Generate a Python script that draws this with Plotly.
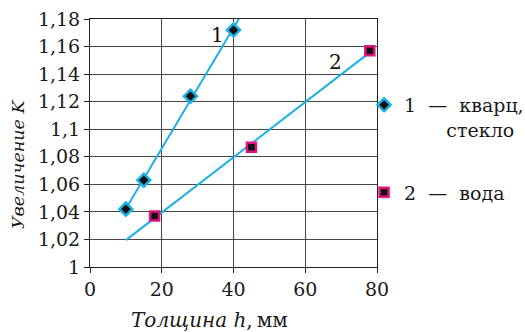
import numpy as np
import plotly.graph_objects as go

# --- data ---
quartz_h = [10, 15, 28, 40]
quartz_k = [1.042, 1.063, 1.124, 1.172]
water_h = [18, 45, 78]
water_k = [1.037, 1.087, 1.157]
quartz_fit_range = [10, 42]
water_fit_range = [10, 78]

x_tickvals = [0, 20, 40, 60, 80]
x_ticktext = ["0", "20", "40", "60", "80"]
y_tickvals = [1.0, 1.02, 1.04, 1.06, 1.08, 1.10, 1.12, 1.14, 1.16, 1.18]
y_ticktext = ["1", "1,02", "1,04", "1,06", "1,08", "1,1", "1,12", "1,14", "1,16", "1,18"]

legend_names = ["1 \u00a0—\u00a0 кварц,<br>" + "\u00a0" * 7 + "стекло", "2 \u00a0—\u00a0 вода"]
x_title = "<i>Толщина h</i>,\u2009мм"
y_title = "<i>Увеличение K</i>"

LINE = "#19b1e6"
MAG = "#e0147f"
FONT = "DejaVu Serif"

def fit(xs, ys, rng):
    a, b = np.polyfit(xs, ys, 1)
    xx = np.array(rng, dtype=float)
    return xx, a * xx + b

fig = go.Figure()

fx, fy = fit(quartz_h, quartz_k, quartz_fit_range)
fig.add_trace(go.Scatter(x=fx, y=fy, mode="lines", line=dict(color=LINE, width=2), showlegend=False, hoverinfo="skip"))
fx2, fy2 = fit(water_h, water_k, water_fit_range)
fig.add_trace(go.Scatter(x=fx2, y=fy2, mode="lines", line=dict(color=LINE, width=2), showlegend=False, hoverinfo="skip"))

fig.add_trace(go.Scatter(x=quartz_h, y=quartz_k, mode="markers", name=legend_names[0], legendgroup="a",
                         marker=dict(symbol="diamond", size=10, color="#111111", line=dict(color=LINE, width=2.5))))
fig.add_trace(go.Scatter(x=water_h, y=water_k, mode="markers", name=legend_names[1], legendgroup="b",
                         marker=dict(symbol="square", size=9, color="#111111", line=dict(color=MAG, width=2.5))))

fig.add_annotation(x=35.4, y=1.1686, text="1", showarrow=False, font=dict(family=FONT, size=20, color="#111"))
fig.add_annotation(x=68.3, y=1.149, text="2", showarrow=False, font=dict(family=FONT, size=20, color="#111"))

# axis titles as annotations (placed like the reference)
fig.add_annotation(xref="paper", yref="paper", x=0.418, y=0, yshift=-53, yanchor="middle", xanchor="center",
                   text=x_title, showarrow=False, font=dict(family=FONT, size=20, color="#1a1a1a"))
fig.add_annotation(xref="paper", yref="paper", x=0, xshift=-72, y=0.415, xanchor="center", yanchor="middle",
                   textangle=-90, text=y_title, showarrow=False, font=dict(family=FONT, size=17.5, color="#1a1a1a"))

GRID = "#444444"
fig.update_layout(
    width=525, height=332,
    margin=dict(l=90, r=148, t=19, b=65, autoexpand=False),
    paper_bgcolor="white", plot_bgcolor="white",
    font=dict(family=FONT, size=19, color="#1a1a1a"),
    legend=dict(x=0.955, y=0.73, xanchor="left", yanchor="top", valign="top",
                tracegroupgap=35, bgcolor="rgba(0,0,0,0)", font=dict(family=FONT, size=19)),
    xaxis=dict(range=[0, 80], tickvals=x_tickvals, ticktext=x_ticktext, showgrid=True, gridcolor=GRID, gridwidth=1,
               showline=True, linecolor="#222", linewidth=1, mirror=True, ticks="outside", ticklen=5, tickcolor="#222",
               zeroline=False, tickfont=dict(size=19), automargin=False),
    yaxis=dict(range=[1.0, 1.18], tickvals=y_tickvals, ticktext=y_ticktext, showgrid=True, gridcolor=GRID, gridwidth=1,
               showline=True, linecolor="#222", linewidth=1, mirror=True, ticks="outside", ticklen=5, tickcolor="#222",
               zeroline=False, tickfont=dict(size=19), automargin=False),
)

fig.write_html("out.html", config={"displayModeBar": False},
               post_script="document.body.style.margin='0';")
